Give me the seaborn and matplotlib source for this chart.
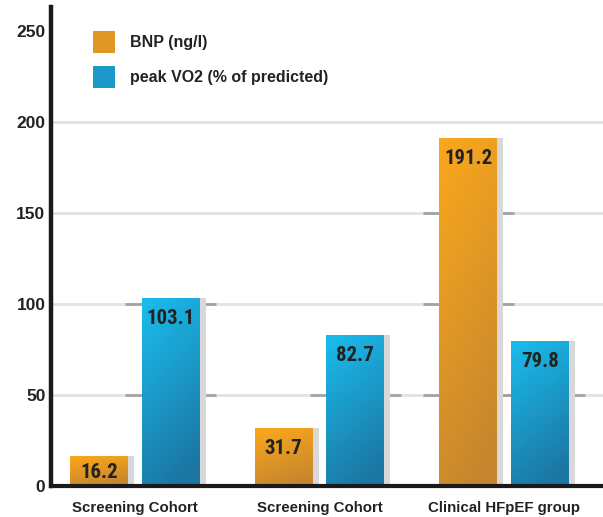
import numpy as np
import pandas as pd
import matplotlib
matplotlib.use("Agg")
import matplotlib.pyplot as plt
import seaborn as sns
from matplotlib.patches import Rectangle, Patch
from matplotlib import font_manager as fm

# ---- data ----
group_ids = ["g1", "g2", "g3"]
group_labels = ["Screening Cohort", "Screening Cohort", "Clinical HFpEF group"]
series_names = ["BNP (ng/l)", "peak VO2 (% of predicted)"]
bnp = [16.2, 31.7, 191.2]
vo2 = [103.1, 82.7, 79.8]
y_ticks = [0, 50, 100, 150, 200, 250]

df = pd.DataFrame({
    "group": group_ids * 2,
    "series": [series_names[0]] * 3 + [series_names[1]] * 3,
    "value": bnp + vo2,
})

sns.set_theme(style="white")
names = {f.name for f in fm.fontManager.ttflist}
narrow = next((n for n in ["Liberation Sans Narrow", "Arial Narrow", "Roboto Condensed",
                           "Archivo Narrow", "Barlow Semi Condensed", "Asap Condensed"]
               if n in names), "DejaVu Sans")
plt.rcParams["font.family"] = ["Liberation Sans", "DejaVu Sans"]

orange_top, orange_bot = np.array([250, 168, 28]) / 255, np.array([198, 134, 46]) / 255
blue_top, blue_bot = np.array([26, 188, 236]) / 255, np.array([28, 118, 163]) / 255
series_grad = [(orange_top, orange_bot), (blue_top, blue_bot)]
mid_colors = [tuple((a + b) / 2) for a, b in series_grad]

fig = plt.figure(figsize=(6.03, 5.17), dpi=100)
ax = fig.add_axes([51 / 603, 31 / 517, 552 / 603, 479 / 517])

sns.barplot(data=df, x="group", y="value", hue="series", order=group_ids,
            hue_order=series_names, palette=mid_colors,
            width=0.776, gap=0.19, legend=False, ax=ax, zorder=3,
            edgecolor="none", linewidth=0)

ax.set_xlim(-0.455, 2.537)
ax.set_ylim(0, 263)

# light gridlines
for g in y_ticks[1:-1]:
    ax.axhline(g, color="#e2e2e2", lw=2, zorder=1)

ppu = 479 / 263  # pixels per data unit on y


def gradient(top, bot, n=64, m=12):
    i = np.linspace(0, 1, n)[:, None]
    j = np.linspace(0, 1, m)[None, :]
    t = np.clip(0.85 * i + 0.25 * j, 0, 1)[..., None]
    return top * (1 - t) + bot * t


for k, cont in enumerate(ax.containers):
    top, bot = series_grad[k]
    for p in cont.patches:
        x, w, h = p.get_x(), p.get_width(), p.get_height()
        # darker gridline segments around the bar
        for g in y_ticks[1:-1]:
            if g < h:
                ax.hlines(g, x - 0.09, x + w + 0.09, color="#a3a3a3", lw=2, zorder=1.5)
        # side shadow
        ax.add_patch(Rectangle((x + w, 0), 0.033, h, facecolor="#d8d8d8",
                               edgecolor="none", zorder=2))
        im = ax.imshow(gradient(top, bot), extent=[x, x + w, 0, h], aspect="auto",
                       origin="upper", zorder=3.5, interpolation="bilinear")
        im.set_clip_path(p)
        hpx = h * ppu
        off = min(11, max(4, (hpx - 16) / 2))
        ax.annotate(f"{h:.1f}", xy=(x + w / 2, h), xytext=(0, -off),
                    textcoords="offset pixels", ha="center", va="top",
                    fontsize=15, fontweight="bold", color="#222222",
                    family=[narrow, "DejaVu Sans"], zorder=5)

ax.set_xlim(-0.455, 2.537)
ax.set_ylim(0, 263)

ax.set_yticks(y_ticks)
ax.set_yticklabels([str(t) for t in y_ticks], fontsize=12.5, fontweight="bold",
                   color="#222222")
ax.set_xticks(range(3))
ax.set_xticklabels(group_labels, fontsize=10.8, fontweight="bold", color="#222222")
ax.tick_params(axis="y", length=0, pad=4)
ax.tick_params(axis="x", length=0, pad=11)
ax.set_xlabel("")
ax.set_ylabel("")

for s in ["top", "right"]:
    ax.spines[s].set_visible(False)
ax.spines["left"].set_linewidth(3.2)
ax.spines["left"].set_color("#1a1a1a")
ax.spines["bottom"].set_linewidth(3)
ax.spines["bottom"].set_color("#1a1a1a")
ax.spines["left"].set_zorder(6)
ax.spines["bottom"].set_zorder(6)

handles = [Patch(facecolor=c, edgecolor="none") for c in mid_colors]
leg = ax.legend(handles, series_names, loc="upper left",
                bbox_to_anchor=(42 / 552, (486 - 31) / 479), frameon=False,
                borderpad=0, borderaxespad=0, handlelength=1.38, handleheight=1.75,
                handletextpad=0.95, labelspacing=0.8,
                prop={"size": 11.5, "weight": "bold"})
for t in leg.get_texts():
    t.set_color("#222222")

fig.savefig("out.png", dpi=100, facecolor="white")
